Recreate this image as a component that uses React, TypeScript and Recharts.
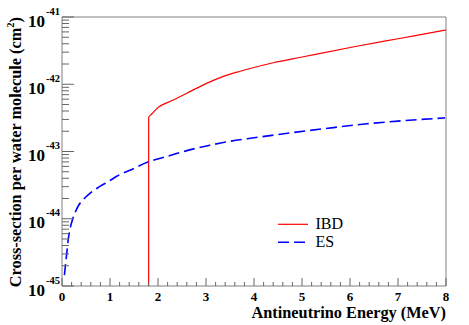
import React from "react";
import {
  LineChart,
  Line,
  XAxis,
  YAxis,
  Legend,
  Label,
  ReferenceArea,
} from "recharts";

//========== Data ====================================

const ibdEnergy = [
  1.805, 1.806, 1.87, 1.97, 2.32, 2.6, 3.0, 3.35, 3.71, 4.4, 5.0, 6.14, 7.0,
  7.98, 8.0,
];
const ibdSigma = [
  1e-47, 3.22e-43, 3.61e-43, 4.31e-43, 5.82e-43, 7.35e-43, 1.023e-42, 1.3e-42,
  1.56e-42, 2.09e-42, 2.54e-42, 3.67e-42, 4.75e-42, 6.37e-42, 6.41e-42,
];

const esEnergy = [
  0.05, 0.08, 0.1, 0.13, 0.17, 0.22, 0.27, 0.35, 0.44, 0.6, 0.79, 1.0, 1.14,
  1.4, 1.83, 2.2, 2.6, 3.08, 3.5, 4.0, 4.75, 5.5, 6.35, 7.0, 7.98,
];
const esSigma = [
  1.45e-45, 2.3e-45, 3.1e-45, 4.9e-45, 7.2e-45, 9.8e-45, 1.22e-44, 1.6e-44,
  1.92e-44, 2.45e-44, 3.03e-44, 3.7e-44, 4.28e-44, 5.2e-44, 7.15e-44, 8.5e-44,
  1.03e-43, 1.24e-43, 1.42e-43, 1.6e-43, 1.89e-43, 2.2e-43, 2.58e-43,
  2.83e-43, 3.16e-43,
];

const xMajorTicks = [0, 1, 2, 3, 4, 5, 6, 7, 8];
const yDecades = [-45, -44, -43, -42, -41];

const ibdData = ibdEnergy.map((x, i) => ({ x, y: ibdSigma[i] }));
const esData = esEnergy.map((x, i) => ({ x, y: esSigma[i] }));

// minor ticks: 0.2 MeV steps on x, 2..9 per decade on y
const xTicks: number[] = [];
for (let i = 0; i < xMajorTicks.length - 1; i++) {
  for (let k = 0; k < 5; k++) xTicks.push(+(xMajorTicks[i] + k * 0.2).toFixed(2));
}
xTicks.push(xMajorTicks[xMajorTicks.length - 1]);

const yTicks: number[] = [];
yDecades.forEach((e, i) => {
  yTicks.push(Math.pow(10, e));
  if (i < yDecades.length - 1) {
    for (let m = 2; m <= 9; m++) yTicks.push(m * Math.pow(10, e));
  }
});

const TICK_COLOR = "#666";
const serif = { fontFamily: '"Liberation Serif", "Times New Roman", serif' };

//========== Custom ticks ===========

const XTick = (props: any) => {
  const { x, y, payload } = props;
  const v = payload.value;
  const major = Math.abs(v - Math.round(v)) < 1e-6;
  return (
    <g>
      <line x1={x} x2={x} y1={y} y2={y - (major ? 8 : 4)} stroke={TICK_COLOR} />
      {major && (
        <text
          x={x}
          y={y + 15}
          textAnchor="middle"
          style={serif}
          fontWeight="bold"
          fontSize={13}
          fill="#000"
        >
          {Math.round(v)}
        </text>
      )}
    </g>
  );
};

const YTick = (props: any) => {
  const { x, y, payload } = props;
  const e = Math.log10(payload.value);
  const major = Math.abs(e - Math.round(e)) < 1e-6;
  return (
    <g>
      <line x1={x} x2={x + (major ? 12 : 7)} y1={y} y2={y} stroke={TICK_COLOR} />
      {major && (
        <g fontWeight="bold" fill="#000">
          <text x={x - 17} y={y + 9.5} textAnchor="end" fontSize={17} style={serif}>
            10
          </text>
          <text x={x - 16} y={y - 2.5} fontSize={10.5} style={serif}>
            {Math.round(e)}
          </text>
        </g>
      )}
    </g>
  );
};

//========== Legend ===========

const renderLegend = () => (
  <svg width={120} height={42} style={{ display: "block" }}>
    <line x1={8} x2={38} y1={14.3} y2={14.3} stroke="#ff0000" strokeWidth={1.2} />
    <text x={45.5} y={19} style={serif} fontSize={16} fill="#000">
      IBD
    </text>
    <line
      x1={8}
      x2={38}
      y1={32.3}
      y2={32.3}
      stroke="#0000ff"
      strokeWidth={1.6}
      strokeDasharray="11 5"
    />
    <text x={45.5} y={36.7} style={serif} fontSize={16} fill="#000">
      ES
    </text>
  </svg>
);

//========== Chart ===========

const App: React.FC = () => {
  return (
    <div style={{ position: "absolute", left: 0, top: 0, width: 469, height: 325, background: "#fff" }}>
      <LineChart
        width={469}
        height={325}
        margin={{ top: 17, right: 23, bottom: 0, left: 0 }}
      >
        <XAxis
          type="number"
          dataKey="x"
          domain={[0, 8]}
          ticks={xTicks}
          interval={0}
          height={39}
          tickSize={0}
          tickMargin={0}
          tickLine={false}
          axisLine={false}
          tick={<XTick />}
          allowDataOverflow
        >
          <Label
            content={(p: any) => {
              const vb = p.viewBox;
              return (
                <text
                  x={vb.x + vb.width}
                  y={vb.y + 31.5}
                  textAnchor="end"
                  style={serif}
                  fontWeight="bold"
                  fontSize={16.3}
                  fill="#000"
                >
                  Antineutrino Energy (MeV)
                </text>
              );
            }}
          />
        </XAxis>
        <YAxis
          type="number"
          dataKey="y"
          scale="log"
          domain={[1e-45, 1e-41]}
          ticks={yTicks}
          interval={0}
          width={62}
          tickSize={0}
          tickMargin={0}
          tickLine={false}
          axisLine={false}
          tick={<YTick />}
          allowDataOverflow
        >
          <Label
            content={(p: any) => {
              const vb = p.viewBox;
              const cx = vb.x + 20.5;
              const cy = vb.y;
              return (
                <text
                  x={cx}
                  y={cy}
                  transform={`rotate(-90, ${cx}, ${cy})`}
                  textAnchor="end"
                  style={serif}
                  fontWeight="bold"
                  fontSize={16.3}
                  fill="#000"
                >
                  Cross-section per water molecule (cm
                  <tspan fontSize={10.5} dy={-6.5}>2</tspan>
                  <tspan dy={6.5}>)</tspan>
                </text>
              );
            }}
          />
        </YAxis>
        <ReferenceArea
          x1={0}
          x2={8}
          y1={1e-45}
          y2={1e-41}
          fill="none"
          stroke="#808080"
          strokeWidth={1}
        />
        <Line
          data={ibdData}
          dataKey="y"
          type="monotone"
          stroke="#ff0000"
          strokeWidth={1.2}
          dot={false}
          isAnimationActive={false}
          name="IBD"
        />
        <Line
          data={esData}
          dataKey="y"
          type="monotone"
          stroke="#0000ff"
          strokeWidth={1.6}
          strokeDasharray="11 5"
          dot={false}
          isAnimationActive={false}
          name="ES"
        />
        <Legend
          layout="vertical"
          align="center"
          verticalAlign="middle"
          content={renderLegend}
          wrapperStyle={{ left: 270, top: 210, width: 120, height: 42 }}
        />
      </LineChart>
    </div>
  );
};

export default App;
